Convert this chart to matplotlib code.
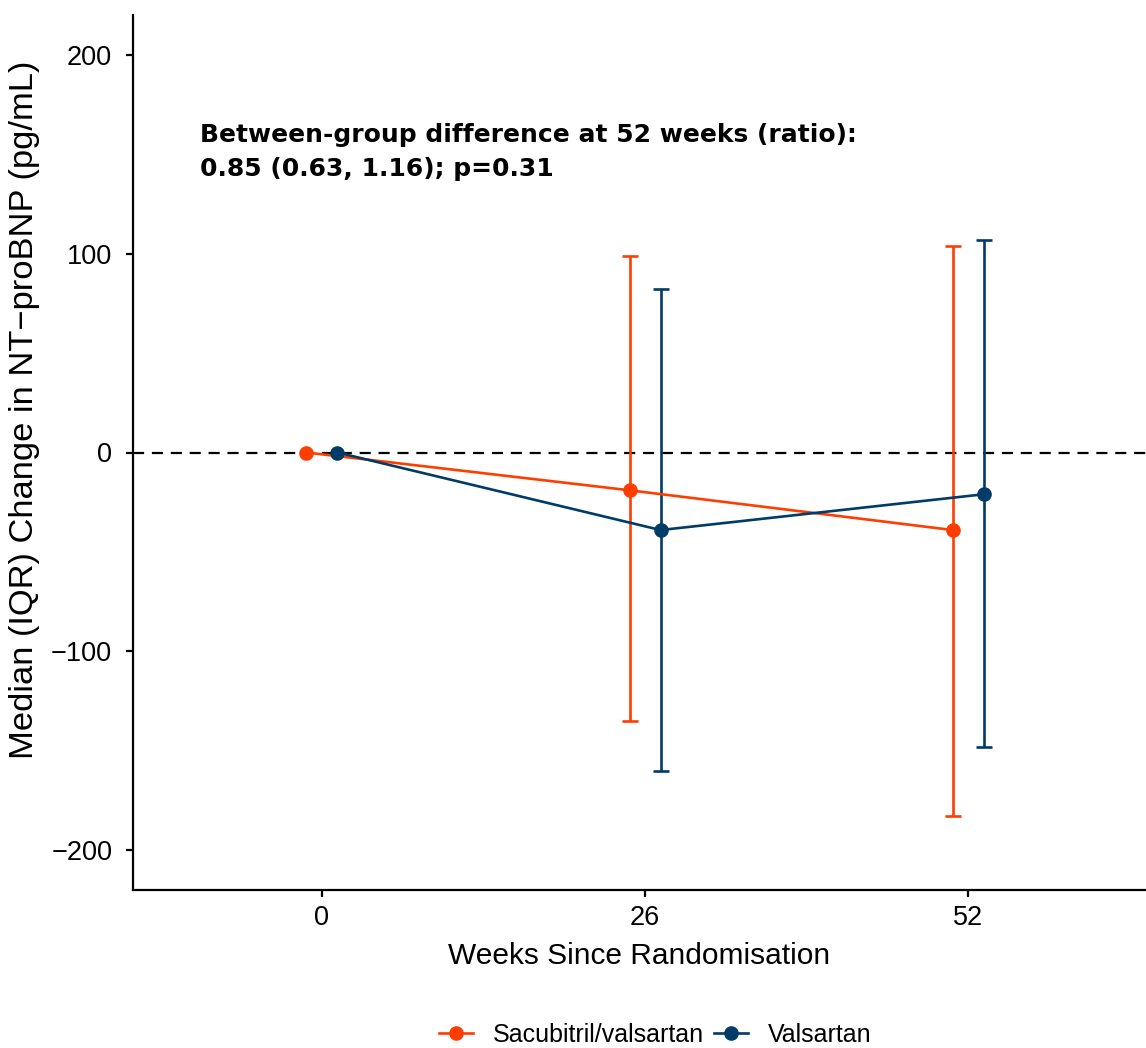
import numpy as np
import matplotlib
matplotlib.use("Agg")
import matplotlib.pyplot as plt

# --- DATA ---
weeks = [0, 26, 52]
groups = ["Sacubitril/valsartan", "Valsartan"]
colors = ["#FF3D00", "#003C67"]
dodge = [-1.25, 1.25]

sac_median = [0, -19, -39]
sac_q1 = [0, -135, -183]
sac_q3 = [0, 99, 104]

val_median = [0, -39, -21]
val_q1 = [0, -160, -148]
val_q3 = [0, 82, 107]

medians = [sac_median, val_median]
q1s = [sac_q1, val_q1]
q3s = [sac_q3, val_q3]

annotation = "Between-group difference at 52 weeks (ratio):\n0.85 (0.63, 1.16); p=0.31"

# --- PLOT ---
plt.rcParams['font.family'] = ['Liberation Sans', 'DejaVu Sans']

fig = plt.figure(figsize=(11.46, 10.48), dpi=100)
W, H = 1146, 1048
ax = fig.add_axes([133 / W, 1 - 890 / H, (W - 133) / W, (890 - 15) / H])

for name, col, dx, med, lo, hi in zip(groups, colors, dodge, medians, q1s, q3s):
    x = np.array(weeks) + dx
    med = np.array(med)
    yerr = [med - np.array(lo), np.array(hi) - med]
    ax.errorbar(x[1:], med[1:], yerr=[yerr[0][1:], yerr[1][1:]], fmt='none',
                ecolor=col, elinewidth=1.9, capsize=6, capthick=1.9, zorder=2)
    ax.plot(x, med, '-o', color=col, lw=1.9, markersize=9.5, label=name, zorder=3)

ax.axhline(0, color='black', lw=1.6, ls=(0, (5, 3.5)), zorder=1)

ax.set_xlim(-15.2, 66.3)
ax.set_ylim(-220, 220)
ax.set_xticks(weeks)
ax.set_yticks([-200, -100, 0, 100, 200])
ax.set_yticklabels(['\u2212200', '\u2212100', '0', '100', '200'])

for s in ['top', 'right']:
    ax.spines[s].set_visible(False)
for s in ['left', 'bottom']:
    ax.spines[s].set_linewidth(1.6)
ax.tick_params(axis='both', labelsize=19.5, width=1.6, length=5, colors='black')
ax.tick_params(axis='y', pad=10)
ax.tick_params(axis='x', pad=6)

ax.set_xlabel('Weeks Since Randomisation', fontsize=21.5, labelpad=8)
ax.set_ylabel('Median (IQR) Change in NT\u2212proBNP (pg/mL)', fontsize=24.8)
ax.yaxis.set_label_coords(-0.092, 0.549)

ax.text(-9.8, 165.5, annotation, fontsize=18, fontweight='bold', family='DejaVu Sans',
        va='top', ha='left', linespacing=1.5)

fig.legend(loc='center', bbox_to_anchor=(655 / W, 1 - 1035 / H), ncol=2, frameon=False,
           fontsize=18, handlelength=1.35, handletextpad=0.8, columnspacing=0.4)

fig.savefig('out.png', dpi=100)
